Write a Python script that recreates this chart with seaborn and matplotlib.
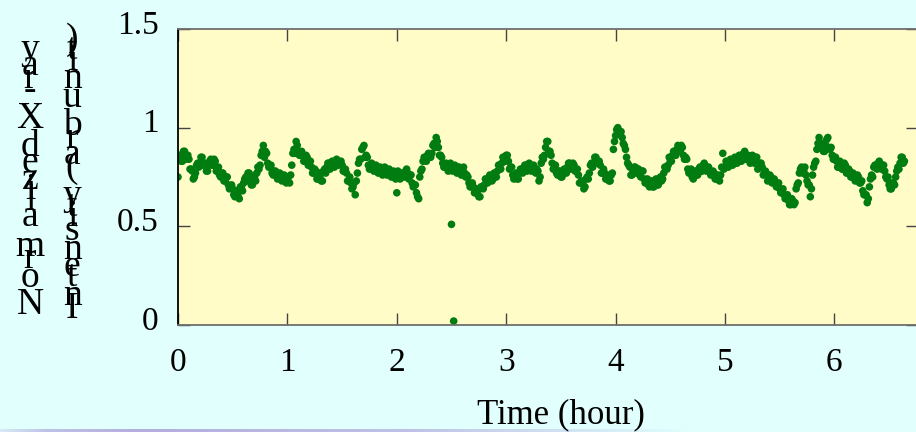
import numpy as np
import pandas as pd
import matplotlib
matplotlib.use("Agg")
import matplotlib.pyplot as plt
import matplotlib.transforms as mtransforms
from matplotlib.font_manager import FontProperties
import seaborn as sns

# Normalized X-ray intensity. Readings come every 0.01 h; they are kept as
# two interleaved lists: on-grid samples (t = 0.00, 0.02, ...) and the
# in-between samples (t = 0.01, 0.03, ...).
SAMPLE_STEP_H = 0.02
intensity = [
    0.75, 0.86, 0.83, 0.88, 0.85, 0.84, 0.79, 0.74, 0.77, 0.82,
    0.82, 0.85, 0.81, 0.78, 0.81, 0.84, 0.81, 0.83, 0.78, 0.76,
    0.77, 0.73, 0.75, 0.71, 0.70, 0.69, 0.65, 0.67, 0.64, 0.70,
    0.72, 0.75, 0.77, 0.73, 0.71, 0.75, 0.77, 0.79, 0.86, 0.91,
    0.88, 0.82, 0.80, 0.77, 0.78, 0.77, 0.75, 0.76, 0.74, 0.75,
    0.75, 0.72, 0.81, 0.89, 0.93, 0.88, 0.86, 0.86, 0.83, 0.85,
    0.81, 0.80, 0.77, 0.78, 0.74, 0.76, 0.73, 0.79, 0.80, 0.82,
    0.80, 0.82, 0.81, 0.83, 0.82, 0.81, 0.78, 0.77, 0.73, 0.72,
    0.70, 0.66, 0.77, 0.84, 0.89, 0.91, 0.86, 0.81, 0.80, 0.79,
    0.80, 0.78, 0.79, 0.77, 0.78, 0.77, 0.78, 0.76, 0.77, 0.75,
    0.67, 0.77, 0.75, 0.76, 0.78, 0.77, 0.76, 0.72, 0.71, 0.67,
    0.64, 0.78, 0.83, 0.84, 0.86, 0.85, 0.87, 0.92, 0.95, 0.90,
    0.86, 0.82, 0.80, 0.81, 0.79, 0.51, 0.02, 0.79, 0.80, 0.78,
    0.79, 0.77, 0.76, 0.72, 0.70, 0.70, 0.67, 0.68, 0.65, 0.70,
    0.71, 0.74, 0.73, 0.75, 0.74, 0.77, 0.78, 0.81, 0.82, 0.85,
    0.86, 0.83, 0.80, 0.76, 0.75, 0.74, 0.77, 0.79, 0.78, 0.81,
    0.79, 0.81, 0.80, 0.78, 0.79, 0.73, 0.82, 0.84, 0.90, 0.93,
    0.88, 0.82, 0.81, 0.77, 0.78, 0.75, 0.77, 0.78, 0.80, 0.82,
    0.80, 0.81, 0.78, 0.76, 0.72, 0.72, 0.70, 0.75, 0.77, 0.82,
    0.82, 0.85, 0.83, 0.81, 0.77, 0.77, 0.74, 0.73, 0.76, 0.89,
    0.96, 1.00, 0.97, 0.95, 0.91, 0.85, 0.81, 0.76, 0.78, 0.80,
    0.79, 0.76, 0.78, 0.74, 0.73, 0.71, 0.72, 0.70, 0.73, 0.71,
    0.74, 0.73, 0.77, 0.80, 0.81, 0.83, 0.86, 0.87, 0.89, 0.90,
    0.91, 0.86, 0.85, 0.79, 0.78, 0.75, 0.77, 0.76, 0.79, 0.78,
    0.81, 0.79, 0.80, 0.78, 0.77, 0.77, 0.74, 0.75, 0.76, 0.87,
    0.80, 0.82, 0.81, 0.83, 0.82, 0.84, 0.83, 0.85, 0.84, 0.88,
    0.85, 0.84, 0.85, 0.83, 0.85, 0.79, 0.82, 0.80, 0.77, 0.76,
    0.74, 0.75, 0.73, 0.72, 0.71, 0.69, 0.68, 0.66, 0.65, 0.63,
    0.61, 0.63, 0.62, 0.71, 0.77, 0.80, 0.78, 0.76, 0.71, 0.65,
    0.76, 0.82, 0.89, 0.95, 0.91, 0.88, 0.91, 0.95, 0.89, 0.86,
    0.85, 0.83, 0.80, 0.82, 0.79, 0.81, 0.77, 0.78, 0.75, 0.76,
    0.74, 0.75, 0.72, 0.68, 0.66, 0.62, 0.70, 0.76, 0.80, 0.81,
    0.82, 0.80, 0.81, 0.78, 0.74, 0.71, 0.69, 0.72, 0.75, 0.80,
    0.82, 0.85, 0.83,
]
intensity_between = [
    0.85, 0.83, 0.88, 0.84, 0.86, 0.79, 0.78, 0.75, 0.81, 0.80,
    0.85, 0.81, 0.82, 0.78, 0.83, 0.81, 0.84, 0.78, 0.80, 0.75,
    0.77, 0.73, 0.75, 0.69, 0.71, 0.66, 0.68, 0.65, 0.70, 0.68,
    0.74, 0.73, 0.77, 0.71, 0.75, 0.73, 0.80, 0.81, 0.88, 0.85,
    0.87, 0.80, 0.81, 0.76, 0.78, 0.74, 0.77, 0.73, 0.76, 0.72,
    0.75, 0.76, 0.87, 0.87, 0.91, 0.86, 0.88, 0.83, 0.86, 0.81,
    0.83, 0.77, 0.79, 0.74, 0.77, 0.73, 0.78, 0.77, 0.82, 0.79,
    0.83, 0.80, 0.84, 0.81, 0.83, 0.78, 0.79, 0.73, 0.75, 0.69,
    0.72, 0.73, 0.82, 0.84, 0.90, 0.85, 0.85, 0.79, 0.82, 0.78,
    0.81, 0.77, 0.80, 0.76, 0.80, 0.76, 0.79, 0.75, 0.78, 0.74,
    0.78, 0.74, 0.77, 0.75, 0.79, 0.74, 0.76, 0.70, 0.71, 0.65,
    0.75, 0.79, 0.85, 0.83, 0.87, 0.85, 0.91, 0.90, 0.93, 0.86,
    0.85, 0.80, 0.82, 0.78, 0.82, 0.78, 0.81, 0.77, 0.80, 0.76,
    0.80, 0.75, 0.75, 0.70, 0.72, 0.67, 0.69, 0.65, 0.70, 0.69,
    0.74, 0.72, 0.76, 0.73, 0.77, 0.75, 0.81, 0.79, 0.85, 0.83,
    0.86, 0.79, 0.80, 0.74, 0.77, 0.74, 0.79, 0.77, 0.81, 0.78,
    0.82, 0.78, 0.81, 0.77, 0.78, 0.75, 0.85, 0.86, 0.93, 0.88,
    0.86, 0.79, 0.81, 0.76, 0.78, 0.75, 0.79, 0.77, 0.82, 0.79,
    0.82, 0.78, 0.79, 0.72, 0.73, 0.69, 0.74, 0.74, 0.81, 0.80,
    0.85, 0.82, 0.83, 0.77, 0.79, 0.74, 0.76, 0.73, 0.77, 0.93,
    0.99, 0.97, 0.98, 0.92, 0.89, 0.82, 0.80, 0.76, 0.80, 0.77,
    0.79, 0.75, 0.78, 0.72, 0.74, 0.70, 0.73, 0.70, 0.74, 0.71,
    0.75, 0.74, 0.80, 0.79, 0.85, 0.83, 0.88, 0.86, 0.91, 0.88,
    0.90, 0.84, 0.84, 0.77, 0.79, 0.74, 0.78, 0.76, 0.80, 0.78,
    0.82, 0.78, 0.80, 0.76, 0.78, 0.74, 0.76, 0.73, 0.80, 0.79,
    0.83, 0.80, 0.84, 0.81, 0.85, 0.82, 0.86, 0.83, 0.87, 0.84,
    0.86, 0.82, 0.86, 0.82, 0.85, 0.80, 0.82, 0.76, 0.78, 0.73,
    0.76, 0.72, 0.74, 0.70, 0.72, 0.67, 0.69, 0.64, 0.66, 0.61,
    0.64, 0.61, 0.69, 0.72, 0.79, 0.77, 0.80, 0.73, 0.71, 0.69,
    0.80, 0.83, 0.92, 0.90, 0.92, 0.88, 0.94, 0.90, 0.90, 0.84,
    0.85, 0.80, 0.83, 0.79, 0.82, 0.77, 0.79, 0.75, 0.77, 0.73,
    0.76, 0.72, 0.73, 0.66, 0.66, 0.64, 0.74, 0.75, 0.81, 0.79,
    0.83, 0.79, 0.81, 0.75, 0.75, 0.69, 0.72, 0.71, 0.78, 0.79,
    0.85, 0.82,
]
time_h = np.arange(len(intensity)) * SAMPLE_STEP_H
time_between_h = np.arange(len(intensity_between)) * SAMPLE_STEP_H + SAMPLE_STEP_H / 2

x_ticks = [0, 1, 2, 3, 4, 5, 6]
y_ticks = [0, 0.5, 1, 1.5]
y_tick_labels = ["0", "0.5", "1", "1.5"]
x_label = "Time (hour)"
y_label_lines = ["Normalized X-ray", "Intensity (arb unit)"]

W, H = 916, 432
PAGE_BG = "#e0fffd"
PLOT_BG = "#fffcc8"
POINT_COLOR = "#007c10"
SERIF = "Liberation Serif"

sns.set_style("ticks")
plt.rcParams["font.family"] = [SERIF, "DejaVu Serif"]

fig = plt.figure(figsize=(W / 100, H / 100), dpi=100, facecolor=PAGE_BG)

# plot box in pixel units: left 178, top 29, bottom 325, runs off the right edge
left, top, bottom, right = 178, 29, 325, 918
ax = fig.add_axes([left / W, (H - bottom) / H, (right - left) / W, (bottom - top) / H])
ax.set_facecolor(PLOT_BG)

df = pd.DataFrame({
    "time": np.concatenate([time_h, time_between_h]),
    "intensity": np.concatenate([intensity, intensity_between]),
}).sort_values("time")
sns.scatterplot(data=df, x="time", y="intensity", ax=ax, s=30,
                color=POINT_COLOR, linewidth=0, edgecolor="none", legend=False)

px_per_hour = 109.4
ax.set_xlim(0, (right - left) / px_per_hour)
ax.set_ylim(0, 1.5)
ax.set_xticks(x_ticks)
ax.set_xticklabels([str(t) for t in x_ticks])
ax.set_yticks(y_ticks)
ax.set_yticklabels(y_tick_labels)
ax.set_xlabel("")
ax.set_ylabel("")

ax.spines["left"].set_color("black")
ax.spines["left"].set_linewidth(1.3)
for side in ["top", "bottom"]:
    ax.spines[side].set_color("#6e6e6e")
    ax.spines[side].set_linewidth(1.3)
ax.spines["right"].set_visible(False)

ax.tick_params(axis="both", direction="in", length=8.5, width=1.0, color="#444444",
               top=True, right=True, labelsize=24, labelcolor="black")
ax.tick_params(axis="x", pad=16)
ax.tick_params(axis="y", pad=14)

# lift the y tick labels a little above their ticks
lift = mtransforms.ScaledTranslation(0, 7 / 100, fig.dpi_scale_trans)
for lab in ax.get_yticklabels():
    lab.set_transform(lab.get_transform() + lift)

# x axis title
fig.text(561 / W, 1 - 423 / H, x_label, ha="center", va="baseline",
         fontsize=25, family=SERIF, color="black")

# y axis title: upright glyphs stacked bottom-to-top along two columns
renderer = fig.canvas.get_renderer()
yl_prop = FontProperties(family=SERIF, size=27)


def advance(s):
    if not s:
        return 0.0
    w_bar = renderer.get_text_width_height_descent("|", yl_prop, ismath=False)[0]
    w = renderer.get_text_width_height_descent(s + "|", yl_prop, ismath=False)[0]
    return w - w_bar


mid_y = (top + bottom) / 2
for line, col_x in zip(y_label_lines, [30, 72]):
    total = advance(line)
    y0 = mid_y + total / 2
    for i, ch in enumerate(line):
        if ch == " ":
            continue
        y = y0 - advance(line[:i])
        fig.text(col_x / W, 1 - y / H, ch, ha="center", va="baseline",
                 fontproperties=yl_prop, color="black")

# faint rule along the bottom edge of the page
rule_ax = fig.add_axes([0, 0, 1, 3 / H])
rule_ax.set_axis_off()
xs = np.linspace(0, 1, 400)
alpha = np.clip(np.interp(xs, [0.0, 0.05, 0.15, 0.45, 0.68, 0.75], [0.2, 0.6, 0.8, 0.6, 0.15, 0.0]), 0, 1)
rgba = np.zeros((1, xs.size, 4))
rgba[..., 0] = 0.66
rgba[..., 1] = 0.60
rgba[..., 2] = 0.84
rgba[..., 3] = alpha
rule_ax.imshow(rgba, aspect="auto", extent=(0, 1, 0, 1))
rule_ax.set_xlim(0, 1)

fig.savefig("out.png", dpi=100, facecolor=PAGE_BG)
